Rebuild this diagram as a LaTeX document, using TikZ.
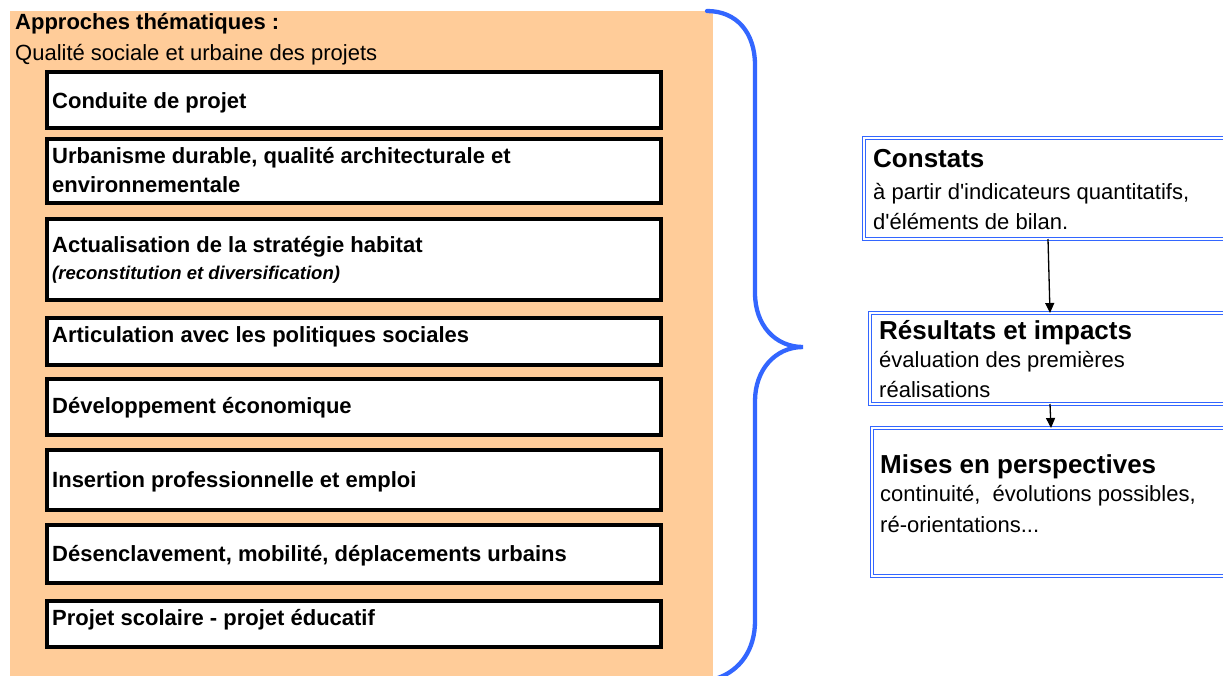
\documentclass[tikz,border=0pt]{standalone}
\usepackage{fontspec}
\setmainfont{Liberation Sans}
\usetikzlibrary{arrows.meta}
\definecolor{orangebg}{HTML}{FFCC99}
\definecolor{braceblue}{HTML}{3366FF}
\tikzset{
  tbox/.style={draw=black, line width=3.8pt, fill=white, inner sep=0pt, outer sep=0pt, anchor=north west, minimum width=614pt},
  bbox/.style={draw=braceblue, line width=1.6pt, double=white, double distance=1.2pt, fill=white, inner sep=0pt, outer sep=0pt, anchor=north west},
  btxt/.style={anchor=west, inner sep=0pt, font=\fontsize{22}{27}\selectfont\bfseries},
  itxt/.style={anchor=west, inner sep=0pt, font=\fontsize{18.5}{22}\selectfont\bfseries\itshape},
  rtxt/.style={anchor=west, inner sep=0pt, font=\fontsize{22}{27}\selectfont},
  htxt/.style={anchor=west, inner sep=0pt, font=\fontsize{26}{30}\selectfont\bfseries},
  arr/.style={draw=black, line width=1.3pt, -{Triangle[width=9pt,length=10pt]}},
  brace/.style={draw=braceblue, line width=4.3pt, line cap=round}
}
\begin{document}
\begin{tikzpicture}[x=1pt,y=-1pt]
\clip (0,0) rectangle (1223,675);
\fill[white] (0,0) rectangle (1223,675);
\fill[orangebg] (10,11) rectangle (713,680);

\node[btxt] (title) at (15,24) {Approches thématiques :};
\node[rtxt] (subtitle) at (15,55) {Qualité sociale et urbaine des projets};

\node[tbox, minimum height=56pt] (b1) at (47,72) {};
\node[btxt] (t1) at (52,103) {Conduite de projet};

\node[tbox, minimum height=64pt] (b2) at (47,139) {};
\node[btxt] (t2a) at (52,158) {Urbanisme durable, qualité architecturale et};
\node[btxt] (t2b) at (52,185) {environnementale};

\node[tbox, minimum height=81pt] (b3) at (47,219) {};
\node[btxt] (t3a) at (52,247) {Actualisation de la stratégie habitat};
\node[itxt] (t3b) at (52,275) {(reconstitution et diversification)};

\node[tbox, minimum height=47pt] (b4) at (47,318) {};
\node[btxt] (t4) at (52,337) {Articulation avec les politiques sociales};

\node[tbox, minimum height=56pt] (b5) at (47,379) {};
\node[btxt] (t5) at (52,408) {Développement économique};

\node[tbox, minimum height=60pt] (b6) at (47,450) {};
\node[btxt] (t6) at (52,482) {Insertion professionnelle et emploi};

\node[tbox, minimum height=58pt] (b7) at (47,525) {};
\node[btxt] (t7) at (52,556) {Désenclavement, mobilité, déplacements urbains};

\node[tbox, minimum height=46pt] (b8) at (47,601) {};
\node[btxt] (t8) at (52,620) {Projet scolaire - projet éducatif};

\draw[brace] (707,11) .. controls (737,11) and (755,33) .. (755,65) -- (755,293)
  .. controls (755,325) and (775,347) .. (803,347)
  .. controls (775,347) and (755,370) .. (755,401) -- (755,621)
  .. controls (755,650) and (740,670) .. (718,678);

\node[bbox, minimum width=380pt, minimum height=101pt] (c1) at (864,138) {};
\node[htxt] (c1h) at (873,159) {Constats};
\node[rtxt] (c1a) at (873,194) {à partir d\textquotesingle indicateurs quantitatifs,};
\node[rtxt] (c1b) at (873,222) {d\textquotesingle éléments de bilan.};

\node[bbox, minimum width=380pt, minimum height=91pt] (c2) at (870,313) {};
\node[htxt] (c2h) at (879,333) {Résultats et impacts};
\node[rtxt] (c2a) at (879,362) {évaluation des premières};
\node[rtxt] (c2b) at (879,390) {réalisations};

\node[bbox, minimum width=380pt, minimum height=148pt] (c3) at (872,428) {};
\node[htxt] (c3h) at (880,467) {Mises en perspectives};
\node[rtxt] (c3a) at (880,496) {continuité,\ \ évolutions possibles,};
\node[rtxt] (c3b) at (880,524) {ré-orientations...};

\draw[arr] ([xshift=184pt]c1.south west) -- ([xshift=180pt]c2.north west);
\draw[arr] ([xshift=180pt]c2.south west) -- ([xshift=179pt]c3.north west);
\end{tikzpicture}
\end{document}
